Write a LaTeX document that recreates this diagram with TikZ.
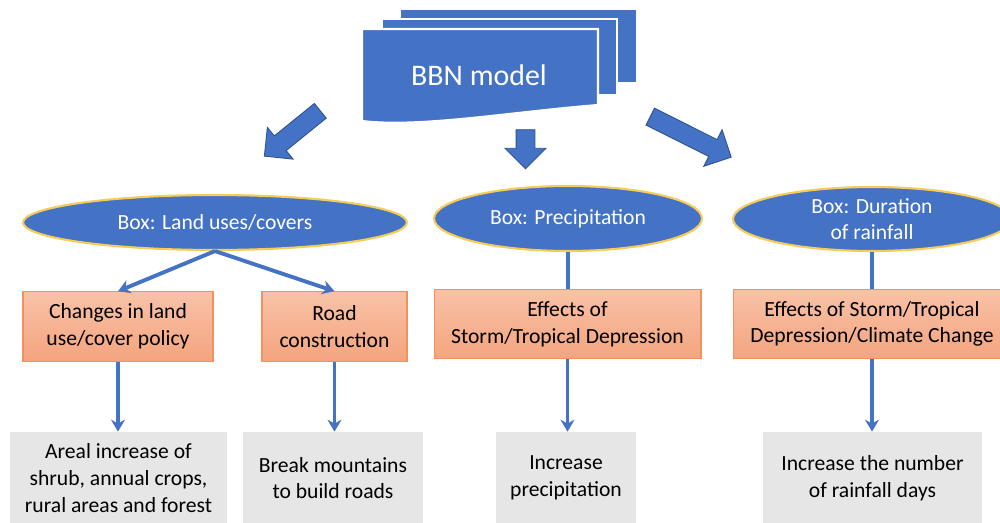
\documentclass[tikz,border=0pt]{standalone}
\usepackage{fontspec}
\setmainfont{Carlito}
\usetikzlibrary{arrows.meta, shapes.geometric, shapes.arrows}
\definecolor{bbnblue}{RGB}{68,114,196}
\definecolor{bbnedge}{RGB}{47,82,143}
\definecolor{ovalgold}{RGB}{246,204,88}
\definecolor{salmontop}{RGB}{248,194,168}
\definecolor{salmonbot}{RGB}{244,164,126}
\definecolor{salmonedge}{RGB}{241,145,95}
\definecolor{lightgrey}{RGB}{231,230,230}

\begin{document}
\begin{tikzpicture}[x=0.02cm, y=-0.02cm,
  font=\fontsize{12.3}{15.2}\selectfont,
  doc/.style={fill=bbnblue, draw=white, line width=1.2pt},
  fat/.style={single arrow, fill=bbnblue, draw=bbnedge, line width=0.5pt, inner sep=0.18cm, minimum width=0.8cm, single arrow head extend=0.22cm},
  oval/.style={ellipse, fill=bbnblue, draw=ovalgold, line width=1.2pt, text=white, inner sep=0pt, align=center},
  effect/.style={rectangle, draw=salmonedge, top color=salmontop, bottom color=salmonbot, line width=0.6pt, minimum height=1.39cm, align=center},
  result/.style={rectangle, fill=lightgrey, minimum height=1.84cm, align=center},
  link/.style={draw=bbnblue, line width=2.2pt},
  arr/.style={link, -{Stealth[length=0.24cm, width=0.28cm]}}]
\path[use as bounding box, clip] (0,0) rectangle (1000,523);
\filldraw[doc] (400,9) rectangle (637,83);
\filldraw[doc] (382,19) rectangle (617,95);
\filldraw[doc] (362,29) -- (598,29) -- (598,105) .. controls (510,112) and (420,128) .. (362,121) -- cycle;
\node[text=white, font=\fontsize{17}{20}\selectfont] (m) at (479,75) {BBN model};
\node[fat, minimum height=1.44cm, rotate=219] (la) at (296,130.5) {};
\node[fat, minimum height=0.78cm, rotate=-90] (ma) at (525.5,144.5) {};
\node[fat, minimum height=1.81cm, rotate=-26.6] (ra) at (686.5,134.8) {};
\node[oval, minimum width=7.68cm, minimum height=1.1cm] (a) at (215,222.5) {Box: Land uses/covers};
\node[oval, minimum width=5.36cm, minimum height=1.3cm] (b) at (568,218.5) {Box: Precipitation};
\node[oval, minimum width=5.56cm, minimum height=1.28cm] (c) at (872,219) {Box: Duration\\of rainfall};
\node[effect, minimum width=3.8cm] (d) at (118,326.5) {Changes in land\\use/cover policy};
\node[effect, minimum width=2.9cm] (e) at (334.5,326.5) {Road\\construction};
\node[effect, minimum width=5.34cm] (f) at (567.5,324) {Effects of\\Storm/Tropical Depression};
\node[effect, minimum width=5.56cm] (g) at (872,324) {Effects of Storm/Tropical\\Depression/Climate Change};
\node[result, minimum width=4.34cm] (h) at (118.5,478) {Areal increase of\\shrub, annual crops,\\rural areas and forest};
\node[result, minimum width=3.6cm] (i) at (333,478) {Break mountains\\to build roads};
\node[result, minimum width=2.8cm] (j) at (566,478) {Increase\\precipitation};
\node[result, minimum width=4.38cm] (k) at (872.5,478) {Increase the number\\of rainfall days};
\draw[arr] (a.south) -- (d.north);
\draw[arr] (a.south) -- (e.north);
\draw[link] (b.south) -- (b.south |- f.north);
\draw[link] (c.south) -- (c.south |- g.north);
\draw[arr] (d.south) -- (d.south |- h.north);
\draw[arr] (e.south) -- (e.south |- i.north);
\draw[arr] (f.south) -- (f.south |- j.north);
\draw[arr] (g.south) -- (g.south |- k.north);
\end{tikzpicture}
\end{document}
